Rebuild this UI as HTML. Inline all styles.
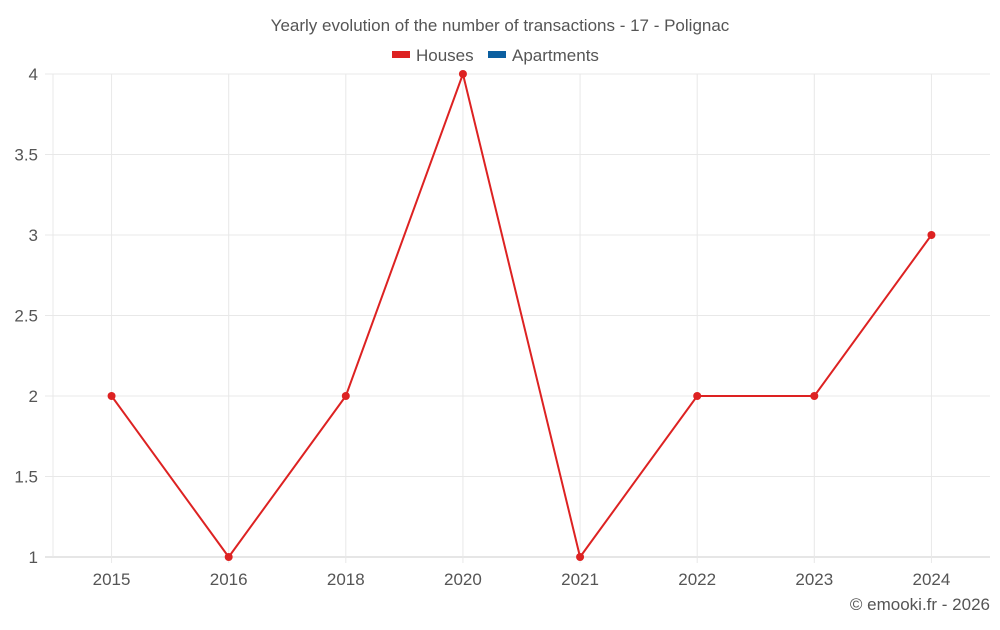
<!DOCTYPE html>
<html><head><meta charset="utf-8"><style>
body{margin:0;background:#fff;font-family:"Liberation Sans",sans-serif}
svg text{font-family:"Liberation Sans",sans-serif}
</style></head><body>
<svg id="c" width="1000" height="625" xmlns="http://www.w3.org/2000/svg">
<text x="500" y="31" text-anchor="middle" font-size="17" fill="#555">Yearly evolution of the number of transactions - 17 - Polignac</text>
<g>
<g><rect x="392" y="51" width="18" height="7" fill="#dd2222"/><text x="416" y="61" font-size="17" fill="#555">Houses</text></g>
<g><rect x="488" y="51" width="18" height="7" fill="#0b5fa0"/><text x="512" y="61" font-size="17" fill="#555">Apartments</text></g>
</g>
<g id="grid"></g>
<g id="axes"></g>
<g id="series"></g>
<text x="990" y="610" text-anchor="end" font-size="17" fill="#555">© emooki.fr - 2026</text>
</svg>
<script>
const categories=["2015","2016","2018","2020","2021","2022","2023","2024"];
const houses=[2,1,2,4,1,2,2,3];
const yTicks=[1,1.5,2,2.5,3,3.5,4];
const yTickLabels=["1","1.5","2","2.5","3","3.5","4"];
const L=53,R=990,T=74,B=557,ymin=1,ymax=4;
const bw=(R-L)/categories.length;
const x=i=>L+bw*(i+0.5);
const y=v=>B-(v-ymin)/(ymax-ymin)*(B-T);
const NS="http://www.w3.org/2000/svg";
function mk(tag,attrs,parent){const e=document.createElementNS(NS,tag);for(const k in attrs)e.setAttribute(k,attrs[k]);parent.appendChild(e);return e;}
const grid=document.getElementById('grid'),axes=document.getElementById('axes'),series=document.getElementById('series');
yTicks.forEach((v,i)=>{
 const l=mk('line',{x1:45,x2:R,y1:y(v),y2:y(v),stroke:i==0?'#ccc':'#e8e8e8','stroke-width':1},grid);
 
 
 const t=mk('text',{x:38,y:y(v)+6,'text-anchor':'end','font-size':17,fill:'#555'},axes);
 t.textContent=yTickLabels[i];
 
 
});
mk('line',{x1:L,x2:L,y1:T,y2:B,stroke:'#e8e8e8'},grid);
categories.forEach((c,i)=>{
 const l=mk('line',{x1:x(i),x2:x(i),y1:T,y2:B+6,stroke:'#e8e8e8'},grid);
 
 
 const t=mk('text',{x:x(i),y:585,'text-anchor':'middle','font-size':17,fill:'#555'},axes);
 t.textContent=c;
 
 
});
const p=mk('polyline',{points:houses.map((v,i)=>x(i)+','+y(v)).join(' '),fill:'none',stroke:'#dd2222','stroke-width':2},series);


houses.forEach((v,i)=>{
 const c=mk('circle',{cx:x(i),cy:y(v),r:4,fill:'#dd2222'},series);
 
 
});
</script>
</body></html>
